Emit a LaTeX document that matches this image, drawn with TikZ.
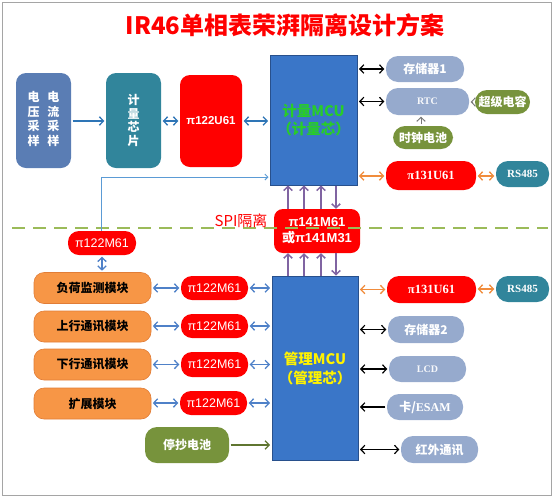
\documentclass[tikz,border=0pt]{standalone}
\usepackage{fontspec}
\setmainfont{Liberation Sans}
\newfontfamily\cjk{Noto Sans CJK SC}
\newfontfamily\serifb{Liberation Serif}
\usetikzlibrary{arrows.meta,calc}
\definecolor{framec}{RGB}{165,165,165}
\definecolor{mcublue}{RGB}{58,118,200}
\definecolor{mcuedge}{RGB}{40,80,140}
\definecolor{vibox}{RGB}{90,125,180}
\definecolor{tealc}{RGB}{49,133,155}
\definecolor{olivec}{RGB}{119,147,60}
\definecolor{orangec}{RGB}{247,150,70}
\definecolor{orangeedge}{RGB}{225,125,55}
\definecolor{lbluec}{RGB}{150,170,205}
\definecolor{redc}{RGB}{255,0,0}
\definecolor{arrblue}{RGB}{46,117,182}
\definecolor{arrblue2}{RGB}{79,129,200}
\definecolor{thinblue}{RGB}{91,155,213}
\definecolor{purc}{RGB}{128,100,162}
\definecolor{arrorange}{RGB}{240,140,60}
\definecolor{arrgreen}{RGB}{95,117,48}
\definecolor{arrgray}{RGB}{120,120,120}
\definecolor{dashgreen}{RGB}{155,187,89}
\definecolor{mcugreen}{RGB}{40,205,40}
\tikzset{
  bx/.style={inner sep=0pt, align=center, text=white},
  cjkb/.style={font=\cjk\bfseries\fontsize{12}{14}\selectfont},
  redbox/.style={bx, fill=redc, rounded corners=11pt, font=\fontsize{12.5}{14}\selectfont},
  pill/.style={bx, rounded corners=12pt},
  modbox/.style={bx, fill=orangec, draw=orangeedge, line width=0.6pt, rounded corners=10pt, text=black,
     minimum width=117pt, minimum height=31pt, cjkb},
  mcubox/.style={fill=mcublue, draw=mcuedge, line width=1pt, inner sep=0pt, align=center},
  tipb/.tip={Straight Barb[length=4pt,width=8.5pt]},
  tips/.tip={Straight Barb[length=3pt,width=6pt]},
  arr/.style={line width=1.3pt, -tipb, shorten >=1.5pt, shorten <=1.5pt},
  darr/.style={line width=1.3pt, tipb-tipb, shorten >=1.5pt, shorten <=1.5pt},
}
\begin{document}
\begin{tikzpicture}[x=1pt,y=-1pt]
\useasboundingbox (0,0) rectangle (554,499);
\draw[framec, line width=1pt] (2.5,2.5) rectangle (551.5,495.5);

% title
\node[text=redc, font=\cjk\bfseries\fontsize{24}{26}\selectfont] (title) at (285,25) {IR46单相表荣湃隔离设计方案};

% upper left chain
\node[bx, fill=vibox, rounded corners=10pt, minimum width=55pt, minimum height=95pt,
      font=\cjk\bfseries\fontsize{12}{13.6}\selectfont] (vi) at (43.5,120.5)
  {\begin{tabular}{@{}c@{\hspace{8pt}}c@{}}电&电\\压&流\\采&采\\样&样\end{tabular}};
\node[bx, fill=tealc, rounded corners=10pt, minimum width=55pt, minimum height=95pt,
      font=\cjk\bfseries\fontsize{12}{13.4}\selectfont] (chip) at (133.5,120.5) {计\\量\\芯\\片};
\node[redbox, rounded corners=10pt, minimum width=62pt, minimum height=92pt, font=\bfseries\fontsize{11.5}{13}\selectfont] (u61a) at (211,121) {π122U61};

% metering MCU
\node[mcubox, minimum width=87pt, minimum height=130pt, text=mcugreen,
      font=\cjk\bfseries\fontsize{14.5}{18}\selectfont] (mcu1) at (313.5,120) {计量MCU\\（计量芯）};

% upper right
\node[pill, fill=lbluec, minimum width=78pt, minimum height=26pt, cjkb] (mem1) at (425,69) {存储器1};
\node[pill, fill=lbluec, minimum width=83pt, minimum height=27pt, text=white!92!lbluec,
      font=\serifb\bfseries\fontsize{10}{12}\selectfont] (rtc) at (427.5,101.5) {RTC};
\node[pill, fill=olivec, minimum width=55pt, minimum height=24pt, cjkb] (cap) at (502.5,102) {超级电容};
\node[pill, fill=olivec, minimum width=60pt, minimum height=23pt, cjkb] (bat) at (423,137.5) {时钟电池};
\node[redbox, rounded corners=12pt, minimum width=90pt, minimum height=29pt,
      font=\serifb\bfseries\fontsize{12.5}{14}\selectfont] (u131a) at (431,175.5) {π131U61};
\node[pill, fill=tealc, minimum width=53pt, minimum height=26pt,
      font=\serifb\bfseries\fontsize{11}{13}\selectfont] (rs1) at (522.5,174) {RS485};

% isolation
\node[redbox, rounded corners=9pt, minimum width=86pt, minimum height=44pt,
      font=\bfseries\fontsize{13}{16}\selectfont] (pi141) at (317,231) {π141M61\\{\cjk 或}π141M31};
\node[redbox, minimum width=68pt, minimum height=24pt] (m61a) at (102,243) {π122M61};
\draw[dashgreen, line width=1.5pt, dash pattern=on 13pt off 8pt] (12,228) -- (548,228);
\node[text=redc, font=\cjk\fontsize{15}{17}\selectfont] (spi) at (241,220.5) {SPI隔离};

% lower left modules
\node[modbox] (load) at (92.5,288) {负荷监测模块};
\node[modbox] (upm) at (92.5,326.5) {上行通讯模块};
\node[modbox] (dnm) at (92.5,364.5) {下行通讯模块};
\node[modbox] (ext) at (92.5,403.5) {扩展模块};
\node[redbox, minimum width=67pt, minimum height=24pt] (m61b) at (214.5,288) {π122M61};
\node[redbox, minimum width=67pt, minimum height=24pt] (m61c) at (214.5,326) {π122M61};
\node[redbox, minimum width=67pt, minimum height=25pt] (m61d) at (214.5,364.5) {π122M61};
\node[redbox, minimum width=67pt, minimum height=24pt] (m61e) at (213.5,403) {π122M61};
\node[bx, fill=olivec, rounded corners=12pt, minimum width=84pt, minimum height=36pt, cjkb] (stop) at (187,445) {停抄电池};

% management MCU
\node[mcubox, minimum width=86pt, minimum height=184pt, text=yellow,
      font=\cjk\bfseries\fontsize{14.5}{19}\selectfont] (mcu2) at (315,368) {管理MCU\\（管理芯）};

% lower right
\node[redbox, rounded corners=12pt, minimum width=89pt, minimum height=27pt,
      font=\serifb\bfseries\fontsize{12.5}{14}\selectfont] (u131b) at (431.5,289.5) {π131U61};
\node[pill, fill=tealc, minimum width=53pt, minimum height=26pt,
      font=\serifb\bfseries\fontsize{11}{13}\selectfont] (rs2) at (522.5,289) {RS485};
\node[pill, fill=lbluec, minimum width=76pt, minimum height=27pt, cjkb] (mem2) at (426,329.5) {存储器2};
\node[pill, fill=lbluec, minimum width=77pt, minimum height=26pt, text=white!92!lbluec,
      font=\serifb\bfseries\fontsize{10}{12}\selectfont] (lcd) at (427.5,369) {LCD};
\node[pill, fill=lbluec, minimum width=76pt, minimum height=26pt, cjkb] (esam) at (425,407) {卡/{\serifb\bfseries ESAM}};
\node[pill, fill=lbluec, minimum width=77pt, minimum height=27pt, cjkb] (ir) at (439.5,449.5) {红外通讯};

% ---- connectors ----
% upper chain
\draw[arr, arrblue] (vi.east |- 0,121) -- (chip.west |- 0,121);
\draw[darr, arrblue] (chip.east |- 0,121) -- (u61a.west |- 0,121);
\draw[darr, arrblue] (u61a.east |- 0,121) -- (mcu1.west |- 0,121);
% thin line from left isolator to metering MCU
\coordinate (tl) at (101,177);
\draw[thinblue, line width=0.9pt, -tips, shorten >=1pt] (m61a.north -| tl) -- (tl) -- (tl -| mcu1.west);
% upper right
\draw[darr, black, line width=1.2pt] (mcu1.east |- mem1.west) -- (mem1.west);
\draw[darr, black, line width=1.2pt] (mcu1.east |- rtc.west) -- (rtc.west);
\draw[arr, arrgray, line width=1pt] (cap.west) -- (cap.west -| rtc.east);
\coordinate (bx) at (421,0);
\draw[arr, arrgray, line width=1pt] (bat.north -| bx) -- (rtc.south -| bx);
\draw[darr, arrorange] (mcu1.east |- 0,176) -- (u131a.west |- 0,176);
\draw[darr, arrorange] (u131a.east |- 0,176) -- (rs1.west |- 0,176);
% purple SPI lines
\coordinate (p1) at (288,0);
\coordinate (p2) at (304,0);
\coordinate (p3) at (321,0);
\coordinate (p4) at (336,0);
\foreach \p in {p1,p2,p3}{
  \draw[arr, purc, line width=1.5pt, shorten <=0pt, shorten >=0pt] (pi141.north -| \p) -- (mcu1.south -| \p);
  \draw[arr, purc, line width=1.5pt, shorten <=0pt, shorten >=0pt] (mcu2.north -| \p) -- (pi141.south -| \p);
}
\draw[arr, purc, line width=1.5pt, shorten <=0pt, shorten >=0pt] (mcu1.south -| p4) -- (pi141.north -| p4);
\draw[arr, purc, line width=1.5pt, shorten <=0pt, shorten >=0pt] (pi141.south -| p4) -- (mcu2.north -| p4);
% left lower
\draw[darr, arrblue2] (m61a.south) -- (load.north -| m61a.south);
\draw[darr, arrblue2] (load.east |- m61b.west) -- (m61b.west);
\draw[darr, arrblue2] (m61b.east) -- (m61b.east -| mcu2.west);
\draw[darr, arrblue2] (upm.east |- m61c.west) -- (m61c.west);
\draw[darr, arrblue2] (m61c.east) -- (m61c.east -| mcu2.west);
\draw[darr, arrblue2] (dnm.east |- m61d.west) -- (m61d.west);
\draw[darr, arrblue2] (m61d.east) -- (m61d.east -| mcu2.west);
\draw[darr, arrblue2] (ext.east |- m61e.west) -- (m61e.west);
\draw[darr, arrblue2] (m61e.east) -- (m61e.east -| mcu2.west);
\draw[arr, arrgreen] (stop.east) -- (stop.east -| mcu2.west);
% right lower
\draw[darr, arrorange] (mcu2.east |- u131b.west) -- (u131b.west);
\draw[darr, arrorange] (u131b.east |- rs2.west) -- (rs2.west);
\draw[darr, black, line width=1.2pt] (mcu2.east |- mem2.west) -- (mem2.west);
\draw[darr, black, line width=1.2pt] (mcu2.east |- lcd.west) -- (lcd.west);
\draw[arr, black, line width=1.2pt] (esam.west) -- (esam.west -| mcu2.east);
\draw[darr, black, line width=1.2pt] (mcu2.east |- ir.west) -- (ir.west);
\end{tikzpicture}
\end{document}
